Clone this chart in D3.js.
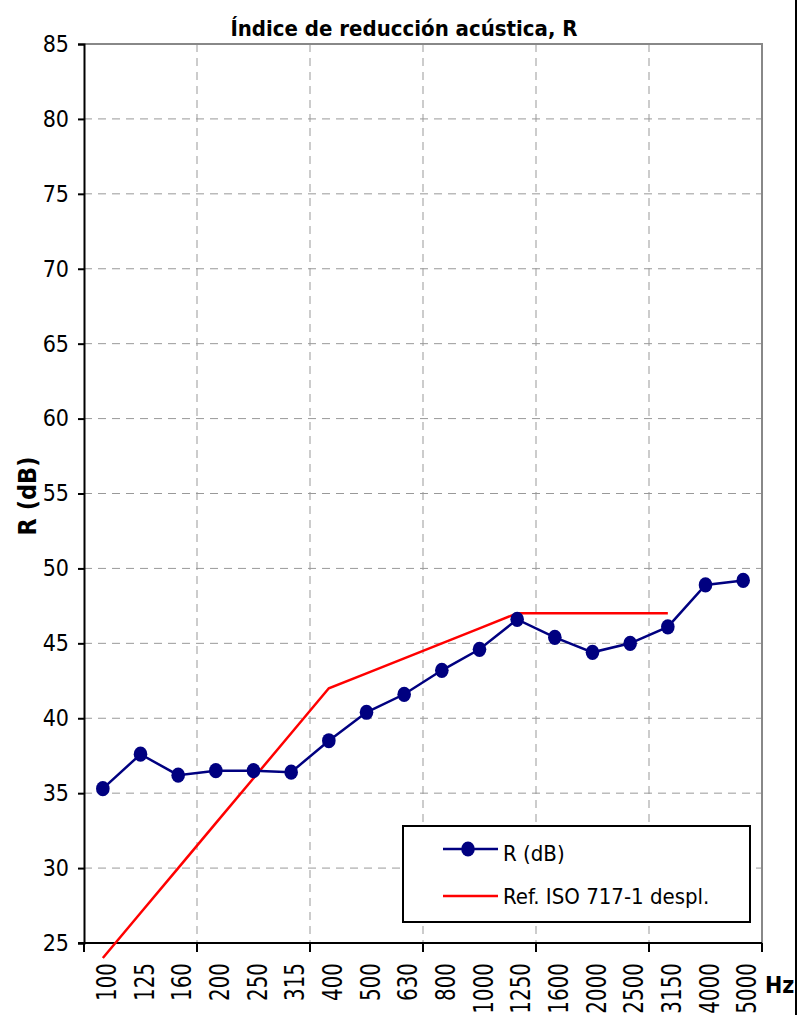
<!DOCTYPE html>
<html>
<head>
<meta charset="utf-8">
<script src="https://cdn.jsdelivr.net/npm/d3@7"></script>
<style>
  body { margin: 0; background: #fff; }
  svg text { font-family: "DejaVu Sans Condensed", "DejaVu Sans", sans-serif; }
</style>
</head>
<body>
<svg id="chart" width="802" height="1015"></svg>
<script>
// frequency bands (Hz)
var bands = ["100", "125", "160", "200", "250", "315", "400", "500", "630", "800",
             "1000", "1250", "1600", "2000", "2500", "3150", "4000", "5000"];

// measured R (dB)
var rValues = [35.3, 37.6, 36.2, 36.5, 36.5, 36.4, 38.5, 40.4, 41.6, 43.2,
               44.6, 46.6, 45.4, 44.4, 45.0, 46.1, 48.9, 49.2];

// ISO 717-1 reference curve, shifted (100..3150 Hz)
var refBands = ["100", "125", "160", "200", "250", "315", "400", "500", "630", "800",
                "1000", "1250", "1600", "2000", "2500", "3150"];
var refValues = [24, 27, 30, 33, 36, 39, 42, 43, 44, 45, 46, 47, 47, 47, 47, 47];

var yTicks = [25, 30, 35, 40, 45, 50, 55, 60, 65, 70, 75, 80, 85];

var margin = {left: 84, top: 44, right: 762, bottom: 943};

var svg = d3.select("#chart");

var x = d3.scaleBand().domain(bands).range([margin.left, margin.right]);
var y = d3.scaleLinear().domain([25, 85]).range([margin.bottom, margin.top]);

function cx(b) { return x(b) + x.bandwidth() / 2; }

// grid lines
var gridX = bands.filter(function (d, i) { return i % 3 == 0 && i > 0; });
svg.append("g").selectAll("line")
    .data(gridX)
    .enter().append("line")
    .attr("x1", function (d) { return x(d); })
    .attr("x2", function (d) { return x(d); })
    .attr("y1", margin.top)
    .attr("y2", margin.bottom)
    .attr("stroke", "#999")
    .attr("stroke-width", 1)
    .attr("stroke-dasharray", "8,6");

svg.append("g").selectAll("line")
    .data(yTicks.slice(1, -1))
    .enter().append("line")
    .attr("x1", margin.left)
    .attr("x2", margin.right)
    .attr("y1", function (d) { return y(d); })
    .attr("y2", function (d) { return y(d); })
    .attr("stroke", "#999")
    .attr("stroke-width", 1)
    .attr("stroke-dasharray", "8,6");

// plot frame (top + right gray)
svg.append("path")
    .attr("d", "M" + margin.left + "," + margin.top + "H" + margin.right + "V" + margin.bottom)
    .attr("fill", "none")
    .attr("stroke", "#888")
    .attr("stroke-width", 2);

// y axis
var yAxis = svg.append("g")
    .attr("transform", "translate(" + margin.left + ",0)")
    .call(d3.axisLeft(y).tickValues(yTicks).tickSize(6).tickPadding(9));
yAxis.select(".domain").attr("stroke", "#000").attr("stroke-width", 2);
yAxis.selectAll(".tick line").attr("stroke", "#000").attr("stroke-width", 2);
yAxis.selectAll("text")
    .style("font-family", "'DejaVu Sans Condensed', sans-serif")
    .style("font-size", "23px")
    .attr("fill", "#000");

// x axis
var tickBounds = bands.filter(function (d, i) { return i % 3 == 0; });
var xAxis = svg.append("g").attr("transform", "translate(0," + margin.bottom + ")");
xAxis.append("line")
    .attr("x1", margin.left - 6).attr("x2", margin.right)
    .attr("stroke", "#000").attr("stroke-width", 2);
xAxis.selectAll("line.tk")
    .data(tickBounds.concat(["end"]))
    .enter().append("line")
    .attr("class", "tk")
    .attr("x1", function (d) { return d == "end" ? margin.right : x(d); })
    .attr("x2", function (d) { return d == "end" ? margin.right : x(d); })
    .attr("y1", 0).attr("y2", 9)
    .attr("stroke", "#000").attr("stroke-width", 2);
xAxis.selectAll("text")
    .data(bands)
    .enter().append("text")
    .attr("transform", function (d) {
        return "translate(" + (cx(d) + 13) + ",20) rotate(-90) scale(0.82,1)";
    })
    .attr("text-anchor", "end")
    .style("font-size", "27px")
    .text(function (d) { return d; });

svg.append("text")
    .attr("x", 765).attr("y", 993)
    .style("font-size", "23px").style("font-weight", "bold")
    .text("Hz");

// reference line
var line = d3.line()
    .x(function (d) { return cx(d.b); })
    .y(function (d) { return y(d.v); });

var refData = refBands.map(function (b, i) { return {b: b, v: refValues[i]}; });
svg.append("path")
    .datum(refData)
    .attr("d", line)
    .attr("fill", "none")
    .attr("stroke", "#ff0000")
    .attr("stroke-width", 2.5);

// measured line + markers
var rData = bands.map(function (b, i) { return {b: b, v: rValues[i]}; });
svg.append("path")
    .datum(rData)
    .attr("d", line)
    .attr("fill", "none")
    .attr("stroke", "#000080")
    .attr("stroke-width", 2.5);

svg.append("g").selectAll("ellipse")
    .data(rData)
    .enter().append("ellipse")
    .attr("cx", function (d) { return cx(d.b); })
    .attr("cy", function (d) { return y(d.v); })
    .attr("rx", 6.8).attr("ry", 7.6)
    .attr("fill", "#000080");

// title + y label
svg.append("text")
    .attr("x", 404).attr("y", 36)
    .attr("text-anchor", "middle")
    .style("font-size", "22px").style("font-weight", "bold")
    .text("Índice de reducción acústica, R");

svg.append("text")
    .attr("transform", "translate(36,496) rotate(-90)")
    .attr("text-anchor", "middle")
    .style("font-size", "25px").style("font-weight", "bold")
    .text("R (dB)");

// legend
var lg = svg.append("g").attr("transform", "translate(403,826)");
lg.append("rect")
    .attr("width", 347).attr("height", 96)
    .attr("fill", "#fff").attr("stroke", "#000").attr("stroke-width", 2);
lg.append("line").attr("x1", 40).attr("x2", 95).attr("y1", 23).attr("y2", 23)
    .attr("stroke", "#000080").attr("stroke-width", 2.5);
lg.append("ellipse").attr("cx", 65).attr("cy", 23).attr("rx", 6.8).attr("ry", 7.6)
    .attr("fill", "#000080");
lg.append("text").attr("x", 100).attr("y", 35)
    .style("font-size", "22px").text("R (dB)");
lg.append("line").attr("x1", 40).attr("x2", 95).attr("y1", 70).attr("y2", 70)
    .attr("stroke", "#ff0000").attr("stroke-width", 2.5);
lg.append("text").attr("x", 100).attr("y", 78)
    .style("font-size", "22px").text("Ref. ISO 717-1 despl.");

// outer right border
svg.append("line")
    .attr("x1", 796).attr("x2", 796).attr("y1", 0).attr("y2", 1015)
    .attr("stroke", "#000").attr("stroke-width", 2);
</script>
</body>
</html>
